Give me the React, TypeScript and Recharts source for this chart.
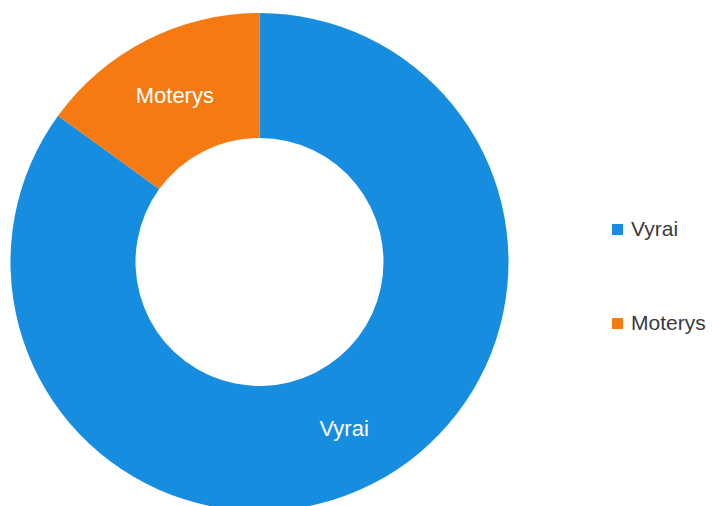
import React from "react";
import { PieChart, Pie, Cell, Legend } from "recharts";

const categories = ["Vyrai", "Moterys"];
const values = [85, 15];
const colors = ["#178de0", "#f57a12"];

const data = categories.map((name, i) => ({ name, value: values[i] }));

const RADIAN = Math.PI / 180;

const renderLabel = (props: any) => {
  const { cx, cy, midAngle, innerRadius, outerRadius, name } = props;
  const r = (innerRadius + outerRadius) / 2;
  const x = cx + r * Math.cos(-midAngle * RADIAN);
  const y = cy + r * Math.sin(-midAngle * RADIAN);
  return (
    <text
      x={x}
      y={y}
      fill="#ffffff"
      textAnchor="middle"
      dominantBaseline="central"
      fontSize={22}
      fontFamily="'Liberation Sans', Arial, sans-serif"
    >
      {name}
    </text>
  );
};

const renderLegend = () => (
  <div style={{ fontFamily: "'Liberation Sans', Arial, sans-serif" }}>
    {categories.map((c, i) => (
      <div
        key={c}
        style={{
          display: "flex",
          alignItems: "center",
          height: 24,
          marginBottom: i === 0 ? 70 : 0,
        }}
      >
        <span
          style={{
            display: "inline-block",
            width: 11,
            height: 11,
            background: colors[i],
            marginRight: 8,
          }}
        />
        <span style={{ fontSize: 21, color: "#3a3a3a" }}>{c}</span>
      </div>
    ))}
  </div>
);

export default function App() {
  return (
    <div style={{ position: "absolute", left: 0, top: 0, width: 712, height: 506, background: "#fff" }}>
      <PieChart width={712} height={506} margin={{ top: 0, right: 0, bottom: 0, left: 0 }}>
        <Pie
          data={data}
          dataKey="value"
          nameKey="name"
          cx={259.5}
          cy={262}
          innerRadius={124}
          outerRadius={249}
          startAngle={90}
          endAngle={-270}
          stroke="none"
          label={renderLabel}
          labelLine={false}
          isAnimationActive={false}
        >
          {data.map((d, i) => (
            <Cell key={d.name} fill={colors[i]} />
          ))}
        </Pie>
        <Legend
          layout="vertical"
          content={renderLegend}
          wrapperStyle={{ left: 612, top: 217, width: 100 }}
        />
      </PieChart>
    </div>
  );
}
